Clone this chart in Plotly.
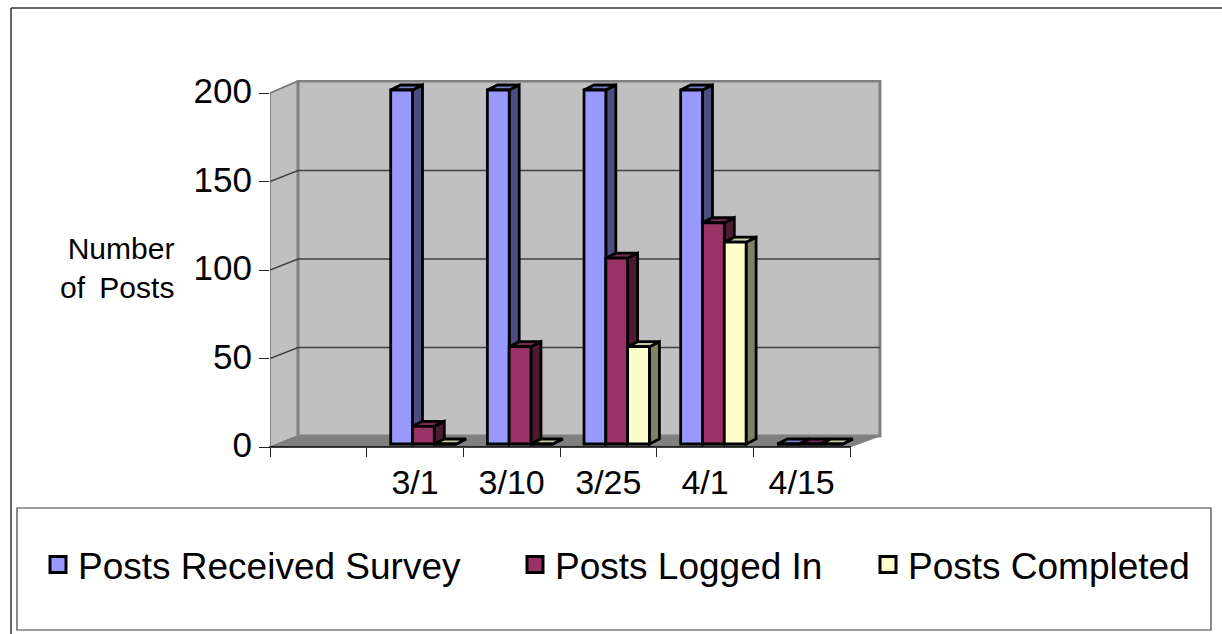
import plotly.graph_objects as go

# ---- data ----
categories = [" ", "3/1", "3/10", "3/25", "4/1", "4/15"]
dates = categories[1:]
received = [200, 200, 200, 200, 0]
logged_in = [10, 55, 105, 125, 0]
completed = [0, 0, 55, 114, 0]
y_ticks = [0, 50, 100, 150, 200]
series_names = ["Posts Received Survey", "Posts Logged In", "Posts Completed"]

# ---- styles ----
FRONT = ["#9999FF", "#993366", "#FFFFCC"]
SIDE = ["#4D4D80", "#4D1A33", "#808066"]
TOP = ["#7A7ACC", "#7A2952", "#CCCCA3"]
W, H = 1222, 634
X0, Y0 = 270, 447                # pixel position of first slot edge / value 0
SLOT = 580 / 6                   # pixels per category
UNIT = 354 / 200                 # pixels per value unit
PLOT_R, PLOT_T = 885, 80         # plotting region extended to hold the 3-D wall

def xd(p): return -0.5 + (p - X0) / SLOT
def yd(p): return (Y0 - p) / UNIT
def xp(p): return (p - X0) / (PLOT_R - X0)
def yp(p): return (Y0 - p) / (Y0 - PLOT_T)
def poly(pts): return "M" + "L".join(f"{a:.4f},{b:.4f}" for a, b in pts) + "Z"

DEPTH_X, DEPTH_Y = 10 / SLOT, 5 / UNIT     # depth of each bar
WALL_X, WALL_Y = 28 / SLOT, 11 / UNIT      # depth of the floor/wall
LIFT = 3 / UNIT                            # bars stand inside the floor
BAR_W = 21.8 / SLOT
BAR_START = -24.3 / SLOT
EDGE = 2.8

shapes = []
x_l, x_r = -0.5, 5.5
wall_gray = "#808080"
# left wall
shapes.append(dict(type="path", xref="x", yref="y", layer="below", fillcolor="#C0C0C0",
                   path=poly([(x_l, 0), (x_l + WALL_X, WALL_Y), (x_l + WALL_X, 200 + WALL_Y + 0.6), (x_l, 200)]),
                   line=dict(color="#6E6E6E", width=1.5)))
# back wall
shapes.append(dict(type="path", xref="x", yref="y", layer="below", fillcolor="#C0C0C0",
                   path=poly([(x_l + WALL_X, WALL_Y), (x_r + WALL_X + 0.02, WALL_Y),
                              (x_r + WALL_X + 0.02, 200 + WALL_Y + 0.6), (x_l + WALL_X, 200 + WALL_Y + 0.6)]),
                   line=dict(color=wall_gray, width=3)))
# floor
shapes.append(dict(type="path", xref="x", yref="y", layer="below", fillcolor=wall_gray,
                   path=poly([(x_l, 0), (x_r, 0), (x_r + WALL_X + 0.02, WALL_Y), (x_l + WALL_X, WALL_Y)]),
                   line=dict(color=wall_gray, width=1)))
# gridlines: along the left wall, then along the back wall
for v in y_ticks[1:-1]:
    shapes.append(dict(type="path", xref="x", yref="y", layer="below",
                       path=f"M{x_l},{v}L{x_l + WALL_X:.4f},{v + WALL_Y:.4f}L{x_r + WALL_X + 0.02:.4f},{v + WALL_Y:.4f}",
                       line=dict(color="#404040", width=1.4)))

# side and top faces of every bar, painted back-to-front
for s, values in enumerate([received, logged_in, completed]):
    for i, v in enumerate(values):
        c = i + 1
        left = c + BAR_START + s * BAR_W
        right = left + BAR_W
        top = v + LIFT
        shapes.append(dict(type="path", xref="x", yref="y", layer="below", fillcolor=SIDE[s],
                           path=poly([(right, LIFT), (right + DEPTH_X, LIFT + DEPTH_Y),
                                      (right + DEPTH_X, top + DEPTH_Y), (right, top)]),
                           line=dict(color="black", width=EDGE)))
        shapes.append(dict(type="path", xref="x", yref="y", layer="below", fillcolor=TOP[s],
                           path=poly([(left, top), (right, top), (right + DEPTH_X, top + DEPTH_Y),
                                      (left + DEPTH_X, top + DEPTH_Y)]),
                           line=dict(color="black", width=EDGE)))

# chart frame, legend box and category axis line
shapes += [
    dict(type="line", xref="paper", yref="paper", x0=xp(11), x1=xp(W), y0=yp(8), y1=yp(8),
         line=dict(color="#333333", width=1.5)),
    dict(type="line", xref="paper", yref="paper", x0=xp(11), x1=xp(11), y0=yp(8), y1=yp(H),
         line=dict(color="#333333", width=1.5)),
    dict(type="rect", xref="paper", yref="paper", x0=xp(17), x1=xp(1211), y0=yp(508), y1=yp(630),
         fillcolor="white", line=dict(color="#404040", width=1.2)),
    dict(type="line", xref="paper", yref="paper", x0=xp(X0 - 1), x1=xp(851), y0=yp(Y0), y1=yp(Y0),
         line=dict(color="black", width=1.5)),
]

fig = go.Figure()
legend_names = ["legend", "legend2", "legend3"]
for s, values in enumerate([received, logged_in, completed]):
    fig.add_trace(go.Bar(x=dates, y=values, base=LIFT, width=BAR_W, offset=BAR_START + s * BAR_W,
                         name=series_names[s], showlegend=False,
                         marker=dict(color=FRONT[s], line=dict(color="black", width=EDGE))))
for s in range(3):
    fig.add_trace(go.Scatter(x=[None], y=[None], mode="markers", name=series_names[s],
                             legend=legend_names[s], showlegend=True,
                             marker=dict(symbol="square", size=16, color=FRONT[s],
                                         line=dict(color="black", width=3))))

legend_font = dict(family="Liberation Sans, Arial, sans-serif", size=37, color="black")
def legend_at(px):
    return dict(x=xp(px), xanchor="left", y=yp(565), yanchor="middle", font=legend_font,
                bgcolor="rgba(0,0,0,0)", borderwidth=0, orientation="v", itemclick=False, itemdoubleclick=False)

fig.update_layout(
    width=W, height=H, autosize=False,
    margin=dict(l=X0, r=W - PLOT_R, t=PLOT_T, b=H - Y0, pad=0),
    paper_bgcolor="white", plot_bgcolor="rgba(0,0,0,0)",
    font=dict(family="Liberation Sans, Arial, sans-serif", color="black"),
    barmode="overlay", shapes=shapes,
    legend=legend_at(38), legend2=legend_at(515), legend3=legend_at(868),
    xaxis=dict(type="category", categoryorder="array", categoryarray=categories,
               range=[-0.5, xd(PLOT_R)], tickmode="linear", tick0=0, dtick=1,
               tickson="boundaries", ticks="outside", ticklen=9, tickwidth=1.2, tickcolor="#222222",
               showgrid=False, zeroline=False, showline=False,
               tickfont=dict(size=34), ticklabelstandoff=12),
    yaxis=dict(range=[0, yd(PLOT_T)], tickmode="array", tickvals=y_ticks,
               ticks="outside", ticklen=10, tickwidth=1.2, tickcolor="#222222",
               showgrid=False, zeroline=False, showline=False,
               tickfont=dict(size=35), ticklabelstandoff=0, ticklabelshift=-2),
    annotations=[dict(text="Number<br>of\u2009 Posts", xref="paper", yref="paper", x=xp(176), y=yp(268),
                      xanchor="right", yanchor="middle", align="right", showarrow=False,
                      font=dict(size=30, color="black"))],
)
fig.write_html("out.html", config={"displayModeBar": False},
               post_script="document.body.style.margin='0';window.dispatchEvent(new Event('resize'));")
